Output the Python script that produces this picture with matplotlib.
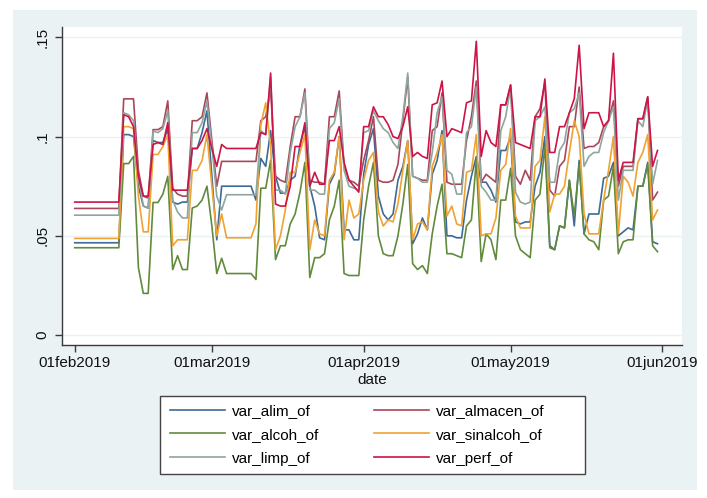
import matplotlib
matplotlib.use("Agg")
import matplotlib.pyplot as plt
from matplotlib.patches import Rectangle
from matplotlib import font_manager
import pandas as pd

fams = {f.name for f in font_manager.fontManager.ttflist}
FONT = "Liberation Sans" if "Liberation Sans" in fams else "DejaVu Sans"
plt.rcParams["font.family"] = [FONT, "DejaVu Sans"]

# ---------------- data ----------------
start_date = "2019-02-01"
n_days = 120

var_alim_of = [
    .0465, .0465, .0465, .0465, .0465, .0465, .0465, .0465, .0465, .0465,
    .101, .101, .100, .075, .065, .064, .098, .097, .097, .104,
    .067, .066, .067, .067, .094, .094, .102, .113, .080, .048,
    .075, .075, .075, .075, .075, .075, .075, .068, .089, .085,
    .103, .080, .0715, .0715, .078, .080, .096, .105, .075, .065,
    .049, .048, .076, .081, .100, .053, .053, .048, .048, .081,
    .096, .104, .070, .061, .058, .061, .078, .085, .098, .046,
    .051, .059, .053, .081, .088, .103, .050, .050, .049, .049,
    .068, .080, .090, .077, .077, .073, .067, .093, .093, .100,
    .057, .056, .057, .057, .075, .082, .100, .045, .043, .055,
    .054, .078, .055, .088, .051, .061, .061, .061, .079, .080,
    .087, .050, .052, .054, .053, .075, .075, .087, .047, .046,
]
var_almacen_of = [
    .0638, .0638, .0638, .0638, .0638, .0638, .0638, .0638, .0638, .0638,
    .119, .119, .119, .083, .070, .069, .1035, .1035, .105, .118,
    .074, .071, .070, .070, .108, .108, .110, .122, .098, .075,
    .0875, .0875, .0875, .0875, .0875, .0875, .0875, .0875, .108, .110,
    .124, .080, .078, .077, .095, .110, .110, .124, .078, .077,
    .077, .076, .110, .110, .123, .085, .078, .077, .075, .088,
    .098, .110, .078, .077, .077, .078, .086, .108, .130, .080,
    .079, .078, .078, .103, .105, .122, .077, .076, .076, .076,
    .098, .110, .128, .077, .081, .079, .077, .116, .116, .126,
    .080, .076, .083, .078, .110, .114, .127, .073, .070, .085,
    .088, .105, .105, .125, .094, .095, .095, .097, .105, .108,
    .118, .075, .085, .085, .085, .109, .109, .120, .068, .072,
]
var_alcoh_of = [
    .044, .044, .044, .044, .044, .044, .044, .044, .044, .044,
    .0864, .0864, .090, .034, .021, .021, .0668, .0668, .071, .080,
    .033, .040, .033, .033, .064, .065, .068, .075, .055, .031,
    .0387, .031, .031, .031, .031, .031, .031, .028, .074, .074,
    .088, .038, .045, .045, .056, .061, .072, .087, .029, .039,
    .039, .041, .058, .065, .078, .031, .030, .030, .030, .058,
    .075, .087, .050, .041, .040, .040, .050, .066, .086, .036,
    .033, .035, .031, .051, .065, .076, .041, .041, .040, .039,
    .055, .058, .088, .037, .051, .048, .038, .068, .068, .084,
    .050, .043, .041, .039, .068, .071, .095, .044, .043, .055,
    .054, .078, .060, .086, .051, .048, .047, .043, .068, .070,
    .085, .041, .047, .048, .048, .075, .075, .086, .045, .042,
]
var_sinalcoh_of = [
    .0487, .0487, .0487, .0487, .0487, .0487, .0487, .0487, .0487, .0487,
    .105, .105, .104, .070, .052, .052, .091, .091, .095, .101,
    .045, .048, .048, .048, .083, .083, .088, .101, .075, .050,
    .061, .049, .049, .049, .049, .049, .049, .056, .106, .117,
    .095, .043, .050, .063, .082, .082, .092, .101, .043, .058,
    .051, .050, .078, .082, .100, .048, .068, .059, .061, .078,
    .088, .092, .062, .055, .058, .057, .066, .083, .098, .048,
    .056, .057, .053, .085, .092, .101, .060, .065, .056, .055,
    .082, .083, .101, .050, .051, .051, .059, .083, .086, .104,
    .060, .054, .054, .054, .085, .088, .110, .062, .071, .071,
    .075, .092, .108, .100, .061, .051, .051, .051, .068, .083,
    .100, .051, .080, .077, .070, .087, .092, .101, .058, .063,
]
var_limp_of = [
    .0604, .0604, .0604, .0604, .0604, .0604, .0604, .0604, .0604, .0604,
    .112, .111, .108, .080, .065, .064, .1027, .102, .104, .113,
    .068, .062, .059, .059, .102, .102, .107, .118, .095, .070,
    .063, .0707, .0707, .0707, .0707, .0707, .0707, .0707, .103, .101,
    .130, .073, .073, .071, .092, .105, .110, .122, .073, .073,
    .071, .071, .104, .107, .119, .083, .075, .074, .073, .102,
    .103, .113, .108, .104, .102, .097, .094, .110, .132, .080,
    .079, .077, .077, .092, .112, .120, .083, .081, .071, .071,
    .102, .105, .125, .075, .072, .068, .068, .103, .110, .125,
    .072, .067, .066, .067, .108, .110, .115, .077, .077, .093,
    .097, .112, .114, .122, .085, .090, .092, .092, .102, .108,
    .115, .068, .083, .083, .083, .108, .105, .119, .076, .088,
]
var_perf_of = [
    .067, .067, .067, .067, .067, .067, .067, .067, .067, .067,
    .111, .110, .105, .080, .070, .070, .096, .097, .096, .107,
    .073, .073, .073, .073, .094, .094, .098, .104, .094, .085,
    .096, .094, .094, .094, .094, .094, .094, .094, .102, .101,
    .132, .066, .065, .065, .075, .095, .095, .107, .075, .082,
    .076, .076, .098, .098, .105, .087, .078, .075, .072, .105,
    .105, .115, .110, .110, .106, .100, .099, .105, .115, .090,
    .092, .090, .089, .116, .117, .128, .100, .104, .103, .102,
    .117, .118, .148, .090, .103, .097, .095, .116, .116, .126,
    .097, .096, .095, .094, .110, .110, .129, .092, .092, .105,
    .105, .112, .119, .146, .104, .112, .112, .112, .105, .108,
    .142, .078, .087, .087, .087, .109, .109, .120, .085, .093,
]

series_names = ["var_alim_of", "var_almacen_of", "var_alcoh_of",
                "var_sinalcoh_of", "var_limp_of", "var_perf_of"]
series_values = [var_alim_of, var_almacen_of, var_alcoh_of,
                 var_sinalcoh_of, var_limp_of, var_perf_of]
series_colors = ["#3d6a96", "#a9475a", "#628a3c", "#f0a232", "#8ea69e", "#cc1446"]

xtick_dates = ["2019-02-01", "2019-03-01", "2019-04-01", "2019-05-01", "2019-06-01"]
xtick_labels = ["01feb2019", "01mar2019", "01apr2019", "01may2019", "01jun2019"]
ytick_values = [0, 0.05, 0.1, 0.15]
ytick_labels = ["0", ".05", ".1", ".15"]

# ---------------- figure ----------------
W, H = 707, 498
fig = plt.figure(figsize=(W / 100, H / 100), dpi=100, facecolor="white")


def fx(px):
    return px / W


def fy(py):
    return 1 - py / H


bg = Rectangle((fx(13), fy(490)), fx(697) - fx(13), fy(10) - fy(490),
               transform=fig.transFigure, facecolor="#EAF2F3", edgecolor="none", zorder=-10)
fig.patches.append(bg)

ax = fig.add_axes([fx(62), fy(345), fx(682) - fx(62), fy(27) - fy(345)])
ax.set_facecolor("white")

dates = pd.date_range(start_date, periods=n_days)
lines = {}
for name, vals, col in zip(series_names, series_values, series_colors):
    (ln,) = ax.plot(dates, vals, color=col, lw=1.2, label=name)
    lines[name] = ln

d0 = pd.Timestamp(start_date)
ax.set_xlim(d0 - pd.Timedelta(days=2.6), d0 + pd.Timedelta(days=124.0))
ax.set_ylim(-0.005, 0.1552)

FS = 11
ax.set_xticks([pd.Timestamp(d) for d in xtick_dates])
ax.set_xticklabels(xtick_labels, fontsize=FS)
ax.set_yticks(ytick_values)
ax.set_yticklabels(ytick_labels, fontsize=FS, rotation=90, va="center", ha="right")

axis_col = "#3a3a3a"
for s in ["top", "right"]:
    ax.spines[s].set_visible(False)
for s in ["left", "bottom"]:
    ax.spines[s].set_color(axis_col)
    ax.spines[s].set_linewidth(1.0)
ax.tick_params(axis="both", direction="out", length=5, width=1, color=axis_col,
               labelcolor="#111111")
ax.tick_params(axis="y", pad=4)
ax.tick_params(axis="x", pad=3)

ax.yaxis.grid(True, color="#EAF2F3", lw=1.0)
ax.set_axisbelow(True)

ax.set_xlabel("date", fontsize=FS, labelpad=2, color="#111111")

# legend box (drawn as its own rectangle) and entries
box = Rectangle((fx(160), fy(474)), fx(585) - fx(160), fy(396) - fy(474),
                transform=fig.transFigure, facecolor="white", edgecolor="#444444",
                lw=1.0, zorder=1)
fig.patches.append(box)

order = ["var_alim_of", "var_alcoh_of", "var_limp_of",
         "var_almacen_of", "var_sinalcoh_of", "var_perf_of"]
leg = fig.legend([lines[n] for n in order], order, ncol=2, loc="upper left",
                 bbox_to_anchor=(fx(170), fy(404)), frameon=False,
                 fontsize=FS, handlelength=3.6, handletextpad=0.46,
                 columnspacing=3.6, labelspacing=0.64, borderpad=0.0,
                 borderaxespad=0.0)
for h in leg.get_lines():
    h.set_linewidth(1.2)

cover = Rectangle((fx(697), 0), 1 - fx(697), 1, transform=fig.transFigure,
                  facecolor="white", edgecolor="none", zorder=100)
fig.add_artist(cover)

fig.savefig("out.png", dpi=100, facecolor="white")
